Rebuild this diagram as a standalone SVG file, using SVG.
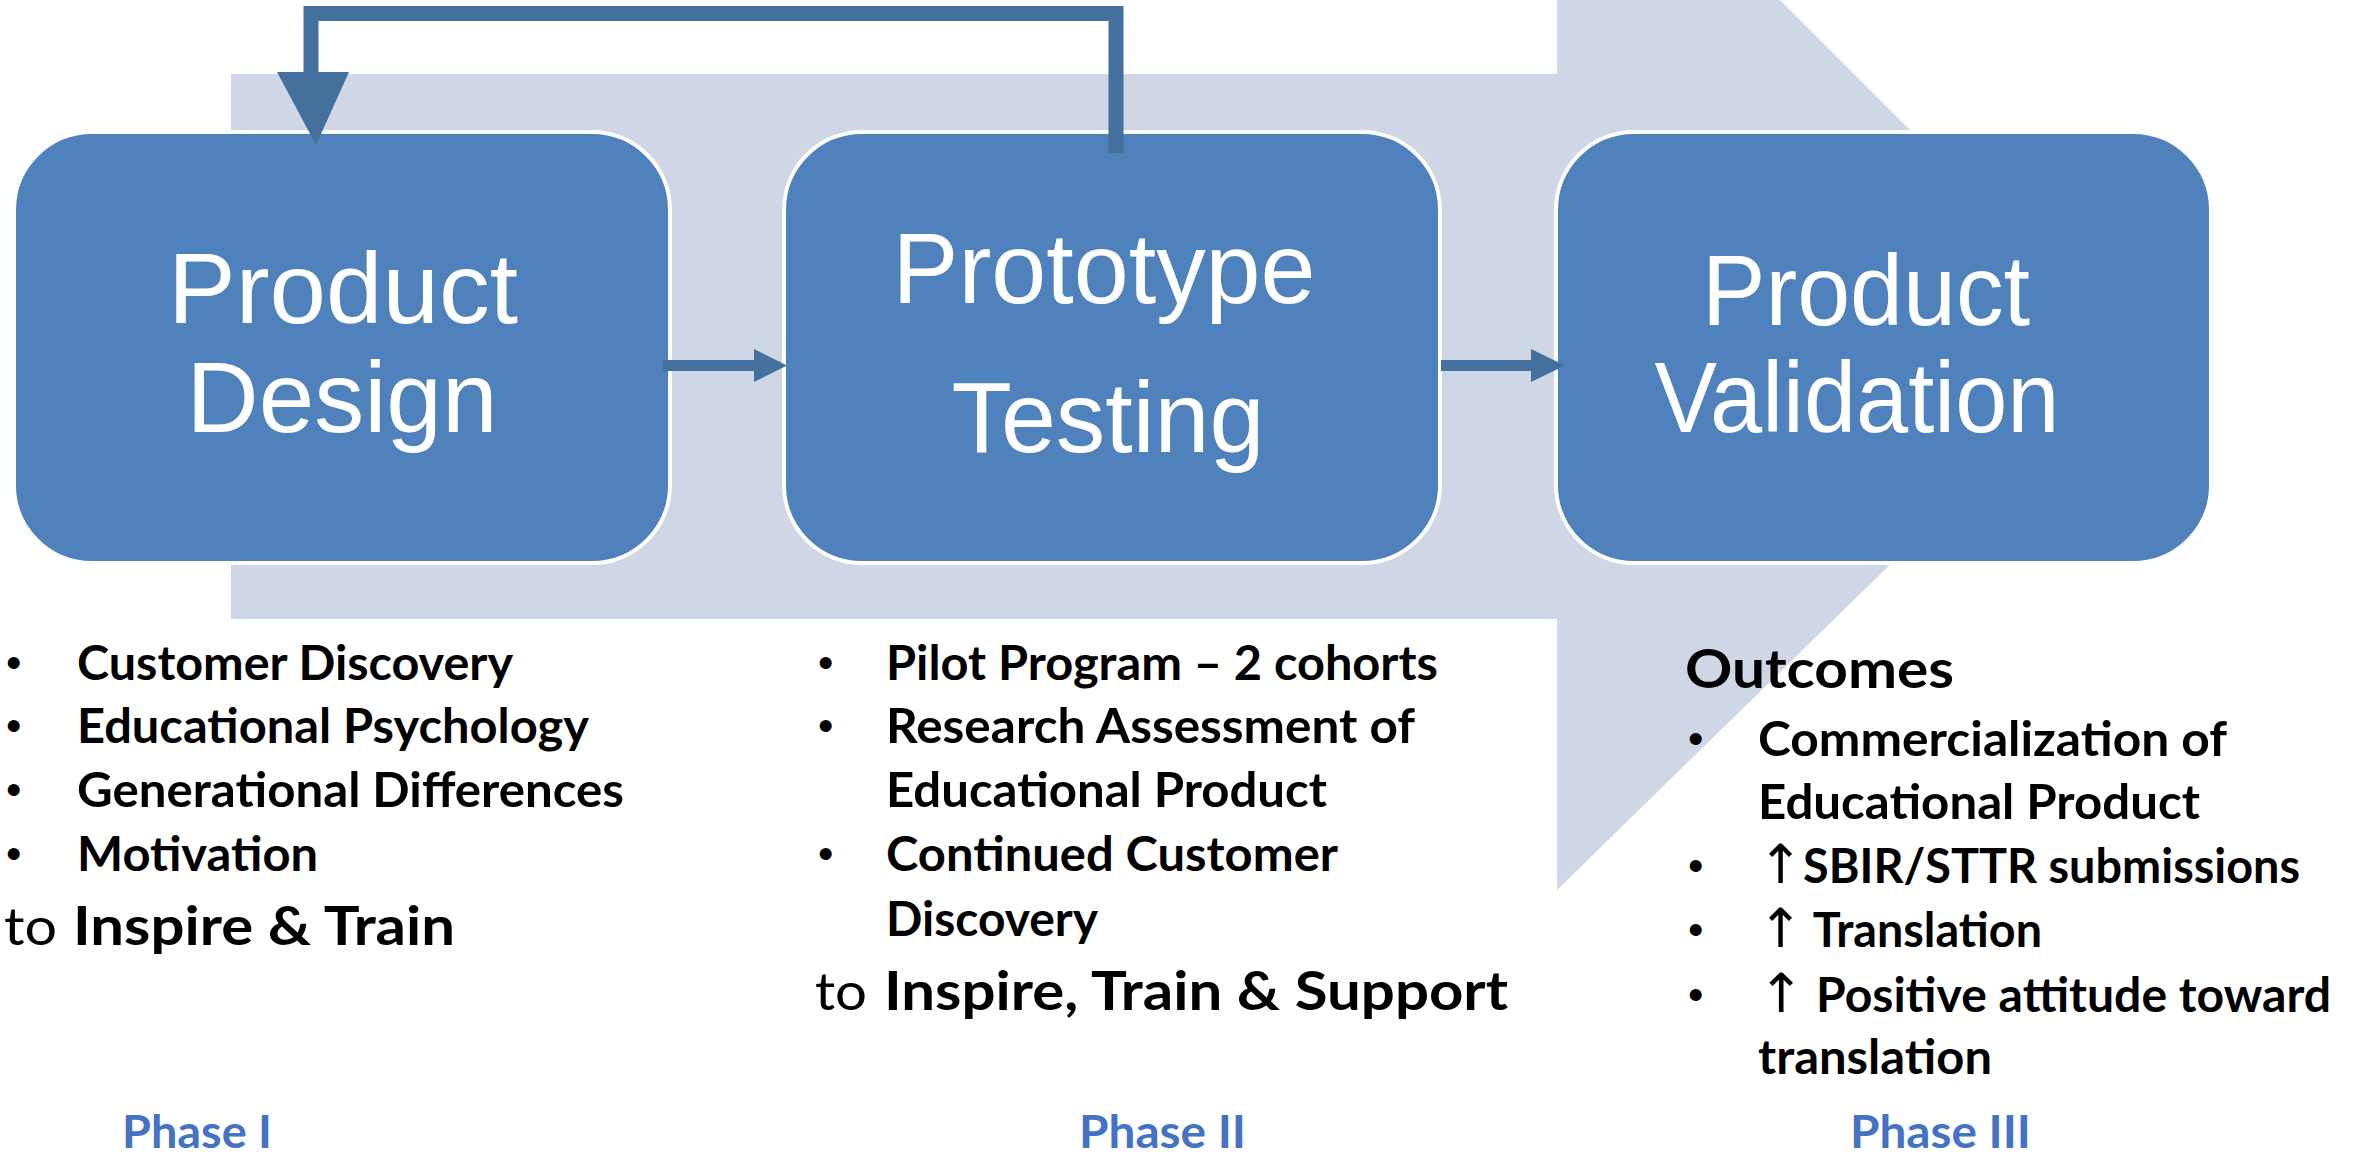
<svg xmlns="http://www.w3.org/2000/svg" width="2356" height="1155" viewBox="0 0 2356 1155">
<style>
.box{fill:#4f81bd;stroke:#ffffff;stroke-width:4}
.bt{font-family:"Liberation Sans",Arial,sans-serif;fill:#ffffff;text-anchor:middle}
.b{font-family:Lato,"Open Sans",sans-serif;font-weight:700;font-size:47px;fill:#000}
.dot{font-family:"Liberation Sans",Arial,sans-serif;font-size:44px;fill:#000}
.up{font-family:"DejaVu Sans","Liberation Sans",sans-serif;font-weight:400;font-size:54px}
.r{font-family:Lato,"Open Sans",sans-serif;font-weight:400;font-size:53px;fill:#000}
.big{font-family:Lato,"Open Sans",sans-serif;font-weight:700;font-size:53px;fill:#000}
.ph{font-family:Lato,"Open Sans",sans-serif;font-weight:700;font-size:45px;fill:#4472c4}
.conn{fill:none;stroke:#43709c;stroke-width:15}
.head{fill:#43709c}
</style>
<rect width="2356" height="1155" fill="#ffffff"/>
<g id="backdrop">
<polygon points="231,74 1557,74 1557,-223 2120,340 1557,890 1557,619 231,619" fill="#cfd6e5"/>
</g>
<g id="node-product-design">
<rect class="box" x="14" y="132" width="656" height="431" rx="78"/>
<text class="bt" font-size="100" x="343" y="323" textLength="350" lengthAdjust="spacingAndGlyphs">Product</text>
<text class="bt" font-size="100" x="342" y="432" textLength="311" lengthAdjust="spacingAndGlyphs">Design</text>
</g>
<g id="node-prototype-testing">
<rect class="box" x="784" y="132" width="656" height="431" rx="78"/>
<text class="bt" font-size="100" x="1104" y="303" textLength="423" lengthAdjust="spacingAndGlyphs">Prototype</text>
<text class="bt" font-size="100" x="1108" y="452" textLength="313" lengthAdjust="spacingAndGlyphs">Testing</text>
</g>
<g id="node-product-validation">
<rect class="box" x="1556" y="132" width="655" height="431" rx="78"/>
<text class="bt" font-size="100" x="1866" y="325" textLength="328" lengthAdjust="spacingAndGlyphs">Product</text>
<text class="bt" font-size="100" x="1857" y="432" textLength="405" lengthAdjust="spacingAndGlyphs">Validation</text>
</g>
<g id="connectors">
<path class="conn" d="M1116,153 V13.5 H311 V74"/>
<polygon class="head" points="277,72 349,72 316,145"/>
<rect class="head" x="663" y="360" width="92" height="11"/>
<polygon class="head" points="754,349 787,365.5 754,382"/>
<rect class="head" x="1441" y="360" width="91" height="11"/>
<polygon class="head" points="1531,349 1565,365.5 1531,382"/>
</g>
<g id="phase1-text">
<text class="dot" x="6" y="678">•</text>
<text class="b" x="77" y="680" textLength="436" lengthAdjust="spacingAndGlyphs">Customer Discovery</text>
<text class="dot" x="6" y="741">•</text>
<text class="b" x="77" y="743" textLength="512" lengthAdjust="spacingAndGlyphs">Educational Psychology</text>
<text class="dot" x="6" y="805">•</text>
<text class="b" x="77" y="807" textLength="547" lengthAdjust="spacingAndGlyphs">Generational Differences</text>
<text class="dot" x="6" y="869">•</text>
<text class="b" x="77" y="871" textLength="241" lengthAdjust="spacingAndGlyphs">Motivation</text>
<text class="r" x="4" y="945" textLength="53" lengthAdjust="spacingAndGlyphs">to</text>
<text class="big" x="73" y="945" textLength="382" lengthAdjust="spacingAndGlyphs">Inspire &amp; Train</text>
<text class="ph" x="122" y="1148" textLength="150" lengthAdjust="spacingAndGlyphs">Phase I</text>
</g>
<g id="phase2-text">
<text class="dot" x="818" y="678">•</text>
<text class="b" x="886" y="680" textLength="552" lengthAdjust="spacingAndGlyphs">Pilot Program – 2 cohorts</text>
<text class="dot" x="818" y="741">•</text>
<text class="b" x="886" y="743" textLength="529" lengthAdjust="spacingAndGlyphs">Research Assessment of</text>
<text class="b" x="886" y="807" textLength="441" lengthAdjust="spacingAndGlyphs">Educational Product</text>
<text class="dot" x="818" y="869">•</text>
<text class="b" x="886" y="871" textLength="452" lengthAdjust="spacingAndGlyphs">Continued Customer</text>
<text class="b" x="886" y="936" textLength="212" lengthAdjust="spacingAndGlyphs">Discovery</text>
<text class="r" x="815" y="1010" textLength="52" lengthAdjust="spacingAndGlyphs">to</text>
<text class="big" x="884" y="1010" textLength="624" lengthAdjust="spacingAndGlyphs">Inspire, Train &amp; Support</text>
<text class="ph" x="1079" y="1148" textLength="167" lengthAdjust="spacingAndGlyphs">Phase II</text>
</g>
<g id="phase3-text">
<text class="big" x="1685" y="688" textLength="269" lengthAdjust="spacingAndGlyphs">Outcomes</text>
<text class="dot" x="1688" y="754">•</text>
<text class="b" x="1758" y="756" textLength="469" lengthAdjust="spacingAndGlyphs">Commercialization of</text>
<text class="b" x="1758" y="819" textLength="442" lengthAdjust="spacingAndGlyphs">Educational Product</text>
<text class="dot" x="1688" y="881">•</text>
<text class="b" x="1758" y="883" textLength="542" lengthAdjust="spacingAndGlyphs"><tspan class="up">↑</tspan>SBIR/STTR submissions</text>
<text class="dot" x="1688" y="945">•</text>
<text class="b" x="1758" y="947" textLength="284" lengthAdjust="spacingAndGlyphs"><tspan class="up">↑</tspan> Translation</text>
<text class="dot" x="1688" y="1010">•</text>
<text class="b" x="1758" y="1012" textLength="573" lengthAdjust="spacingAndGlyphs"><tspan class="up">↑</tspan> Positive attitude toward</text>
<text class="b" x="1758" y="1074" textLength="234" lengthAdjust="spacingAndGlyphs">translation</text>
<text class="ph" x="1850" y="1148" textLength="181" lengthAdjust="spacingAndGlyphs">Phase III</text>
</g>
</svg>
